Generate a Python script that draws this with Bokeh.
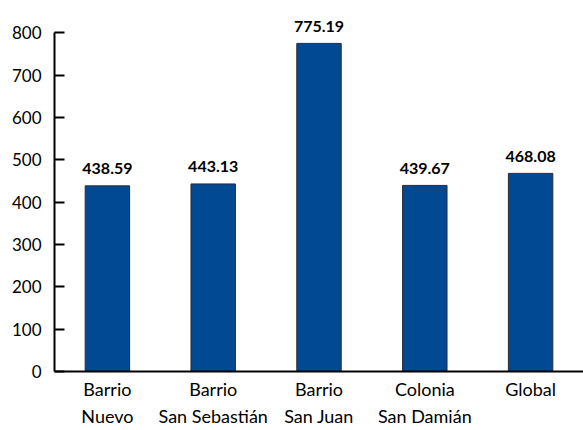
from bokeh.plotting import figure
from bokeh.models import ColumnDataSource, Range1d, FactorRange, SingleIntervalTicker
from bokeh.core.properties import value
from bokeh.embed import file_html
from bokeh.resources import INLINE

categories = ["Barrio\nNuevo", "Barrio\nSan Sebastián", "Barrio\nSan Juan", "Colonia\nSan Damián", "Global"]
values = [438.59, 443.13, 775.19, 439.67, 468.08]
labels = ["438.59", "443.13", "775.19", "439.67", "468.08"]

src = ColumnDataSource(dict(cat=categories, val=values, lab=labels))

p = figure(width=583, height=430, x_range=FactorRange(*categories), y_range=Range1d(0, 860),
           output_backend="svg", toolbar_location=None,
           min_border_left=54, min_border_right=0, min_border_top=7, min_border_bottom=57)
p.vbar(x="cat", top="val", width=0.42, source=src, fill_color="#014a93", line_color="#2a2a3a", line_width=1)
p.text(x="cat", y="val", text="lab", source=src, text_align="center", text_baseline="alphabetic",
       y_offset=-17, text_font=value("Lato"), text_font_style="bold", text_font_size="16px", text_color="#000000")

p.outline_line_color = None
p.xgrid.grid_line_color = None
p.ygrid.grid_line_color = None
p.x_range.range_padding = 0

p.yaxis.ticker = SingleIntervalTicker(interval=100)
p.yaxis.bounds = (0, 800)
p.yaxis.major_tick_in = 10
p.yaxis.major_tick_out = 0
p.yaxis.minor_tick_line_color = None
p.yaxis.axis_line_width = 2
p.yaxis.major_tick_line_width = 2
p.yaxis.major_label_standoff = 9
for ax in (p.xaxis, p.yaxis):
    ax.major_label_text_font = "Lato"
    ax.major_label_text_font_size = "17px"
    ax.major_label_text_color = "#000000"
    ax.axis_line_color = "#000000"
    ax.major_tick_line_color = "#000000"
p.xaxis.major_label_text_font_size = "18px"
p.xaxis.axis_line_width = 2
p.xaxis.major_tick_line_color = None
p.xaxis.major_tick_in = 0
p.xaxis.major_tick_out = 0
p.xaxis.minor_tick_line_color = None
p.xaxis.minor_tick_in = 0
p.xaxis.minor_tick_out = 0
p.xaxis.major_label_standoff = 6
p.xaxis.major_label_text_line_height = 1.25
p.xaxis.group_text_font_size = "0px"

open("out.html", "w").write(file_html(p, INLINE))
